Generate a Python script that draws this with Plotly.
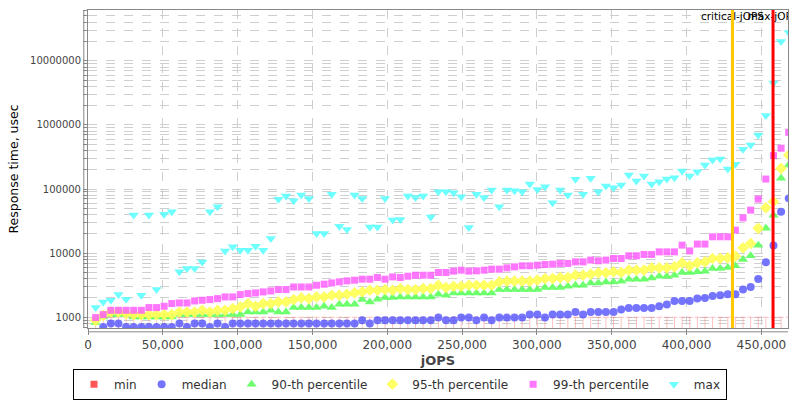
import math
import plotly.graph_objects as go

# ---------------- data ----------------
JOPS = [5090, 10180, 15270, 20360, 25450, 30540, 35630, 40720, 45810, 50900,
        55990, 61080, 66170, 71260, 76350, 81440, 86530, 91620, 96710, 101800,
        106890, 111980, 117070, 122160, 127250, 132340, 137430, 142520, 147610, 152700,
        157790, 162880, 167970, 173060, 178150, 183240, 188330, 193420, 198510, 203600,
        208690, 213780, 218870, 223960, 229050, 234140, 239230, 244320, 249410, 254500,
        259590, 264680, 269770, 274860, 279950, 285040, 290130, 295220, 300310, 305400,
        310490, 315580, 320670, 325760, 330850, 335940, 341030, 346120, 351210, 356300,
        361390, 366480, 371570, 376660, 381750, 386840, 391930, 397020, 402110, 407200,
        412290, 417380, 422470, 427560, 432650, 437740, 442830, 447920, 453010, 458100,
        463190, 468280]

# min values lie below the visible range (only their whiskers show)
MIN_RT = [500, 500, 500, 500, 500, 500, 500, 500, 500, 500,
          500, 500, 500, 500, 500, 500, 500, 500, 500, 500,
          500, 500, 500, 500, 500, 500, 500, 500, 500, 500,
          500, 500, 500, 500, 500, 500, 500, 500, 500, 500,
          500, 500, 500, 500, 500, 500, 500, 500, 500, 500,
          500, 500, 500, 500, 500, 500, 500, 500, 500, 500,
          500, 500, 500, 500, 500, 500, 500, 500, 500, 500,
          500, 500, 500, 500, 500, 500, 500, 500, 500, 500,
          500, 500, 500, 500, 500, 500, 500, 500, 500, 500,
          500, 500]
MIN_WHISKER_TOP = 1000

MEDIAN = [560, 705, 797, 797, 705, 705, 705, 705, 705, 705,
          705, 797, 705, 797, 797, 705, 797, 705, 797, 797,
          797, 797, 797, 797, 797, 797, 797, 797, 797, 797,
          797, 797, 797, 797, 797, 898, 797, 898, 898, 898,
          898, 898, 898, 898, 898, 990, 898, 898, 990, 990,
          898, 990, 898, 990, 990, 990, 990, 1102, 1102, 990,
          1102, 1102, 1102, 1210, 1102, 1210, 1210, 1210, 1210, 1319,
          1398, 1398, 1398, 1398, 1485, 1579, 1798, 1798, 1798, 1958,
          2004, 2153, 2207, 2287, 2287, 2708, 2972, 3965, 7227, 13190,
          44150, 71600]

P90 = [830, 1011, 1102, 1102, 1102, 1011, 1011, 1011, 1011, 1011,
       1011, 1102, 1102, 1102, 1102, 1102, 1102, 1102, 1102, 1102,
       1210, 1210, 1210, 1286, 1210, 1210, 1417, 1417, 1417, 1417,
       1485, 1417, 1597, 1597, 1597, 1890, 1735, 1911, 2030, 2030,
       2077, 2077, 2077, 2077, 2077, 2287, 2207, 2398, 2398, 2398,
       2398, 2398, 2398, 2708, 2708, 2708, 2708, 2708, 2708, 2907,
       2907, 2907, 3041, 3159, 3159, 3437, 3437, 3564, 3564, 3652,
       3920, 3920, 3920, 4112, 4371, 4371, 4530, 4992, 4992, 5111,
       5236, 5770, 5770, 5980, 6348, 7980, 9100, 13340, 24400, 39000,
       147000, 237000]

P95 = [898, 1075, 1210, 1210, 1142, 1102, 1102, 1102, 1102, 1102,
       1102, 1210, 1210, 1210, 1286, 1210, 1286, 1286, 1367, 1449,
       1638, 1485, 1638, 1638, 1735, 1735, 1890, 2004, 1958, 2077,
       2077, 2207, 2207, 2287, 2398, 2488, 2640, 2640, 2708, 2640,
       2807, 2708, 2708, 2807, 2807, 3159, 2907, 3041, 3041, 3159,
       3159, 3159, 3159, 3564, 3652, 3652, 3652, 3652, 3788, 4016,
       4016, 4169, 4169, 4530, 4530, 4700, 4931, 4931, 5111, 4992,
       5430, 5430, 5430, 5903, 5903, 5903, 6121, 7052, 6348, 7052,
       7310, 8263, 8263, 8462, 8974, 12100, 14140, 24400, 51100, 63500,
       210000, 337000]

P99 = [990, 1102, 1286, 1286, 1286, 1286, 1286, 1417, 1417, 1485,
       1638, 1673, 1673, 1798, 1844, 1890, 1958, 2077, 2077, 2264,
       2345, 2398, 2488, 2577, 2708, 2708, 2972, 2972, 2972, 3159,
       3281, 3437, 3564, 3698, 3788, 3930, 3930, 4169, 3930, 4268,
       4169, 4371, 4530, 4530, 4530, 4992, 4992, 5236, 5430, 5236,
       5302, 5430, 5630, 5630, 5903, 6121, 6348, 6348, 6494, 6660,
       6730, 6910, 6910, 7310, 7310, 7800, 7600, 7800, 8263, 8263,
       9100, 9100, 9550, 9550, 10480, 10480, 10480, 13340, 10850, 13850,
       13850, 18000, 18000, 18000, 22840, 35600, 46900, 69700, 143000, 332000,
       433000, 766000]

MAX_RT = [1418, 1735, 1844, 2264, 1911, 39200, 2207, 39200, 2708, 40600,
          44100, 5111, 5770, 5770, 7310, 44100, 52800, 10850, 12560, 11100,
          11100, 12850, 11100, 17000, 69000, 77600, 65700, 80400, 71500, 20200,
          20200, 83100, 26300, 23300, 80400, 71500, 25700, 25700, 71500, 32800,
          33600, 77600, 74000, 77600, 36800, 90800, 90800, 87500, 75800, 25200,
          82600, 74100, 96400, 52800, 96400, 94000, 90800, 119700, 98800, 108600,
          61000, 96400, 80600, 141900, 82600, 147000, 90800, 111400, 104800, 115500,
          165500, 133400, 159500, 119700, 130000, 143300, 150400, 191000, 159500, 186400,
          237000, 284000, 294400, 205400, 243000, 417000, 487000, 698000, 1397000, 4490000,
          20000000, 27700000]

CRITICAL_JOPS = 430700
MAX_JOPS = 457800

X_TICKS = [0, 50000, 100000, 150000, 200000, 250000, 300000, 350000, 400000, 450000]
X_TICK_LABELS = ["0", "50,000", "100,000", "150,000", "200,000", "250,000",
                 "300,000", "350,000", "400,000", "450,000"]
Y_MAJOR = [1000, 10000, 100000, 1000000, 10000000]
Y_MAJOR_LABELS = ["1000", "10000", "100000", "1000000", "10000000"]

X_RANGE = [0, 467800]
Y_RANGE_LOG = [2.833, 7.792]

FONT = "DejaVu Sans"
TXT = "#444444"

# ---------------- axis ticks (majors labelled, minors unlabeled) ----------------
yt_vals, yt_text = [], []
for d in [100, 1000, 10000, 100000, 1000000, 10000000]:
    for m in range(1, 10):
        v = d * m
        if 10 ** Y_RANGE_LOG[0] <= v <= 10 ** Y_RANGE_LOG[1]:
            yt_vals.append(v)
            yt_text.append(Y_MAJOR_LABELS[Y_MAJOR.index(v)] if v in Y_MAJOR else "")

fig = go.Figure()

# min: markers fall below the axis; whiskers up to the top bar are visible
fig.add_trace(go.Scatter(
    x=JOPS, y=MIN_RT, mode="markers", name="min",
    marker=dict(symbol="square", size=7, color="#ff5555"),
    error_y=dict(type="data", symmetric=False,
                 array=[MIN_WHISKER_TOP - v for v in MIN_RT],
                 arrayminus=[0 for v in MIN_RT],
                 color="rgba(255,120,120,0.45)", thickness=1, width=3),
    cliponaxis=True))

series = [
    ("median", MEDIAN, "circle", 8, "rgba(85,85,255,0.82)"),
    ("90-th percentile", P90, "triangle-up", 9, "rgba(85,255,85,0.85)"),
    ("95-th percentile", P95, "diamond", 9, "rgba(255,255,85,0.9)"),
    ("99-th percentile", P99, "square", 7, "rgba(255,85,255,0.8)"),
    ("max", MAX_RT, "triangle-down", 9, "rgba(85,255,255,0.85)"),
]
for name, vals, sym, size, col in series:
    fig.add_trace(go.Scatter(
        x=JOPS, y=vals, mode="markers", name=name,
        marker=dict(symbol=sym, size=size, color=col, line=dict(width=0)),
        cliponaxis=True))

# critical / max jOPS markers
label_y = 10 ** (Y_RANGE_LOG[1] - 0.115)
fig.add_shape(type="line", x0=CRITICAL_JOPS, x1=CRITICAL_JOPS, y0=0, y1=1,
              xref="x", yref="paper", line=dict(color="#ffc800", width=3))
fig.add_shape(type="line", x0=MAX_JOPS, x1=MAX_JOPS, y0=0, y1=1,
              xref="x", yref="paper", line=dict(color="#ff0000", width=3))
fig.add_trace(go.Scatter(x=[CRITICAL_JOPS], y=[label_y], mode="text",
                         text=["critical-jOPS"], textposition="middle center",
                         textfont=dict(family=FONT, size=10.5, color="black"),
                         showlegend=False, cliponaxis=True, hoverinfo="skip"))
fig.add_trace(go.Scatter(x=[MAX_JOPS], y=[label_y], mode="text",
                         text=["max-jOPS"], textposition="middle center",
                         textfont=dict(family=FONT, size=10.5, color="black"),
                         showlegend=False, cliponaxis=True, hoverinfo="skip"))

# offset axis lines (drawn a few px away from the plot frame)
fig.add_shape(type="line", xref="paper", yref="paper", x0=-0.006, x1=-0.006, y0=0, y1=1,
              line=dict(color="#888888", width=1))
fig.add_shape(type="line", xref="paper", yref="paper", x0=0, x1=1, y0=-0.012, y1=-0.012,
              line=dict(color="#888888", width=1))

fig.update_layout(
    width=800, height=400,
    margin=dict(l=88, r=12, t=10, b=72, autoexpand=False),
    paper_bgcolor="white", plot_bgcolor="white",
    font=dict(family=FONT, color=TXT),
    showlegend=True,
    legend=dict(orientation="h", x=0.4457, xanchor="center", y=-0.128, yanchor="top",
                bordercolor="black", borderwidth=1, bgcolor="white",
                font=dict(family=FONT, size=12, color="#333333"),
                itemwidth=30, tracegroupgap=0),
    xaxis=dict(range=X_RANGE, tickvals=X_TICKS, ticktext=X_TICK_LABELS,
               tickfont=dict(family=FONT, size=12, color=TXT),
               showgrid=True, gridcolor="#cfcfcf", griddash="dash", gridwidth=1,
               zeroline=False, showline=True, linecolor="#888888", mirror=True,
               ticks="outside", ticklen=6, tickcolor="#888888", automargin=False,
               title=dict(text="<b>jOPS</b>", font=dict(family=FONT, size=13, color=TXT),
                          standoff=4)),
    yaxis=dict(type="log", range=Y_RANGE_LOG, tickvals=yt_vals, ticktext=yt_text,
               tickfont=dict(family=FONT, size=10, color=TXT),
               showgrid=True, gridcolor="#cfcfcf", griddash="dash", gridwidth=1,
               zeroline=False, showline=True, linecolor="#888888", mirror=True,
               ticks="outside", ticklen=4, tickcolor="#888888", automargin=False,
               title=dict(text="Response time, usec",
                          font=dict(family=FONT, size=12.5, color="black"), standoff=8)),
)

# the page's default body margin would shift the figure by 8 px
fig.write_html("out.html", config={"displayModeBar": False},
               post_script="document.body.style.margin='0px';document.body.style.overflow='hidden';")
